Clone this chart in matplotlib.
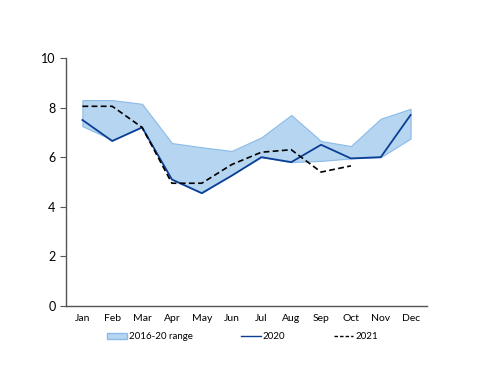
import matplotlib
matplotlib.use("Agg")
import matplotlib.pyplot as plt
from matplotlib.patches import Patch
from matplotlib.lines import Line2D

months = ["Jan", "Feb", "Mar", "Apr", "May", "Jun", "Jul", "Aug", "Sep", "Oct", "Nov", "Dec"]
range_hi = [8.3, 8.3, 8.15, 6.57, 6.4, 6.25, 6.8, 7.7, 6.65, 6.45, 7.55, 7.95]
range_lo = [7.25, 6.7, 7.2, 5.1, 4.55, 5.3, 6.0, 5.8, 5.85, 5.95, 6.0, 6.75]
y2020 = [7.5, 6.65, 7.2, 5.1, 4.55, 5.25, 6.0, 5.8, 6.5, 5.95, 6.0, 7.7]
y2021 = [8.05, 8.05, 7.2, 4.95, 4.95, 5.7, 6.2, 6.3, 5.4, 5.65]

plt.rcParams['font.family'] = ['Lato', 'DejaVu Sans']

fig = plt.figure(figsize=(5, 3.86), dpi=100)
ax = fig.add_axes([0.132, 0.207, 0.722, 0.643])

x = list(range(len(months)))
ax.fill_between(x, range_lo, range_hi, facecolor="#b5d5f1", edgecolor="#8bbbe8", linewidth=0.8)
ax.plot(x, y2020, color="#0b3f95", linewidth=1.3)
ax.plot(x[:len(y2021)], y2021, color="black", linewidth=1.2, linestyle=(0, (3.5, 2)))

ax.set_xlim(-0.55, 11.55)
ax.set_ylim(0, 10)
ax.set_xticks(x)
ax.set_xticklabels(months, fontsize=7.5)
ax.set_yticks([0, 2, 4, 6, 8, 10])
ax.tick_params(axis='y', labelsize=9, length=4, width=0.8, color="#555555")
ax.tick_params(axis='x', length=0, pad=6)
for s in ["top", "right"]:
    ax.spines[s].set_visible(False)
for s in ["left", "bottom"]:
    ax.spines[s].set_color("#555555")
    ax.spines[s].set_linewidth(1.0)

handles = [Patch(facecolor="#b5d5f1", edgecolor="#8bbbe8", label="2016-20 range"),
           Line2D([], [], color="#0b3f95", linewidth=1.0, label="2020"),
           Line2D([], [], color="black", linewidth=1.0, linestyle=(0, (2.5, 1.5)), label="2021")]
fig.legend(handles=handles, loc="center", bbox_to_anchor=(0.485, 0.127), ncol=3, frameon=False,
           fontsize=7, handlelength=2.0, handleheight=0.6, columnspacing=5.0, handletextpad=0.2)

fig.savefig("out.png", dpi=100)
